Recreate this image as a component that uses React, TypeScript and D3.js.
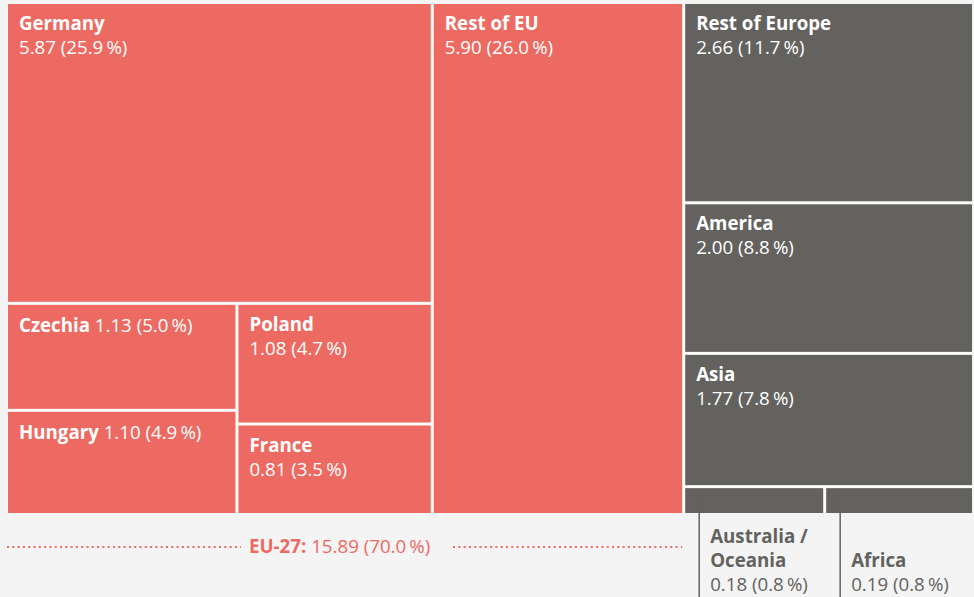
import React from "react";
import * as d3 from "d3";

const regions = ["Germany", "Rest of EU", "Czechia", "Hungary", "Poland", "France", "Rest of Europe", "America", "Asia", "Australia / Oceania", "Africa"];
const values = [5.87, 5.90, 1.13, 1.10, 1.08, 0.81, 2.66, 2.00, 1.77, 0.18, 0.19];
const shares = [25.9, 26.0, 5.0, 4.9, 4.7, 3.5, 11.7, 8.8, 7.8, 0.8, 0.8];
const euTotal = 15.89;
const euShare = 70.0;

const W = 974, H = 597;
const X0 = 8, Y0 = 4, X1 = 972, Y1 = 513;
const RED = "#ed6a62", GRAY = "#63625e", BG = "#f4f4f4";
const FONT = "'Open Sans', Lato, sans-serif";
const FS = 18.7;

const leaf = (name: string) => {
  const i = regions.indexOf(name);
  return { name, value: values[i], share: shares[i], group: i < 6 ? "eu" : "other" };
};

const tree = {
  name: "root", dir: "h",
  children: [
    { name: "EU", dir: "h", children: [
      { name: "left", dir: "v", children: [
        leaf("Germany"),
        { name: "bottom", dir: "h", children: [
          { name: "c1", dir: "v", children: [leaf("Czechia"), leaf("Hungary")] },
          { name: "c2", dir: "v", children: [leaf("Poland"), leaf("France")] },
        ] },
      ] },
      leaf("Rest of EU"),
    ] },
    { name: "nonEU", dir: "v", children: [
      leaf("Rest of Europe"), leaf("America"), leaf("Asia"),
      { name: "small", dir: "h", children: [leaf("Australia / Oceania"), leaf("Africa")] },
    ] },
  ],
};

const fmt = (v: number) => d3.format(".2f")(v);
const pct = (p: number) => `(${d3.format(".1f")(p)}\u2009%)`;

export default function App() {
  const root = d3.hierarchy<any>(tree).sum((d: any) => (d.children ? 0 : d.value));
  const layout = d3.treemap<any>()
    .size([X1 - X0, Y1 - Y0])
    .paddingInner(3)
    .tile((node: any, x0, y0, x1, y1) => {
      if (node.data.dir === "h") d3.treemapDice(node, x0, y0, x1, y1);
      else d3.treemapSlice(node, x0, y0, x1, y1);
    });
  layout(root);
  const leaves = root.leaves() as any[];
  const inline = new Set(["Czechia", "Hungary"]);
  const outside = new Set(["Australia / Oceania", "Africa"]);
  const euNode = root.children![0] as any;

  return (
    <div style={{ position: "absolute", left: 0, top: 0 }}>
      <svg width={W} height={H} style={{ display: "block", fontFamily: FONT }}>
        <rect width={W} height={H} fill={BG} />
        <g transform={`translate(${X0},${Y0})`}>
          <rect width={X1 - X0} height={Y1 - Y0} fill="#fbfbfb" />
          {leaves.map((d) => (
            <rect key={d.data.name} x={d.x0} y={d.y0} width={d.x1 - d.x0} height={d.y1 - d.y0}
              fill={d.data.group === "eu" ? RED : GRAY} />
          ))}
          {leaves.filter((d) => !outside.has(d.data.name)).map((d) => (
            inline.has(d.data.name) ? (
              <text key={"t" + d.data.name} x={d.x0 + 11} y={d.y0 + 27} fill="#fff" fontSize={FS}>
                <tspan fontWeight={700}>{d.data.name}</tspan>
                <tspan> {fmt(d.data.value)} {pct(d.data.share)}</tspan>
              </text>
            ) : (
              <text key={"t" + d.data.name} x={d.x0 + 11} y={d.y0 + 26} fill="#fff" fontSize={FS}>
                <tspan fontWeight={700}>{d.data.name}</tspan>
                <tspan x={d.x0 + 11} dy={24}>{fmt(d.data.value)} {pct(d.data.share)}</tspan>
              </text>
            )
          ))}
          {leaves.filter((d) => outside.has(d.data.name)).map((d) => {
            const parts = d.data.name === "Australia / Oceania" ? ["Australia /", "Oceania"] : ["Africa"];
            const baseY = 578 - Y0;
            return (
              <g key={"o" + d.data.name}>
                <line x1={d.x0 + 14} x2={d.x0 + 14} y1={d.y0 + 11} y2={H - Y0} stroke={GRAY} strokeWidth={1.5} />
                <text x={d.x0 + 25} y={baseY + 13} fill={GRAY} fontSize={FS}>
                  {parts.map((p, i) => (
                    <tspan key={p} x={d.x0 + 25} y={baseY + 13 - (parts.length - i) * 24} fontWeight={700}>{p}</tspan>
                  ))}
                  <tspan x={d.x0 + 25} y={baseY + 13}>{fmt(d.data.value)} {pct(d.data.share)}</tspan>
                </text>
              </g>
            );
          })}
          <g>
            <line x1={euNode.x0 - 1} x2={233} y1={543} y2={543} stroke={RED} strokeWidth={2} strokeDasharray="2 3.3" />
            <line x1={445} x2={euNode.x1} y1={543} y2={543} stroke={RED} strokeWidth={2} strokeDasharray="2 3.3" />
            <text x={241} y={549} fill={RED} fontSize={FS}>
              <tspan fontWeight={700}>EU-27:</tspan>
              <tspan> {fmt(euTotal)} {pct(euShare)}</tspan>
            </text>
          </g>
        </g>
      </svg>
    </div>
  );
}
